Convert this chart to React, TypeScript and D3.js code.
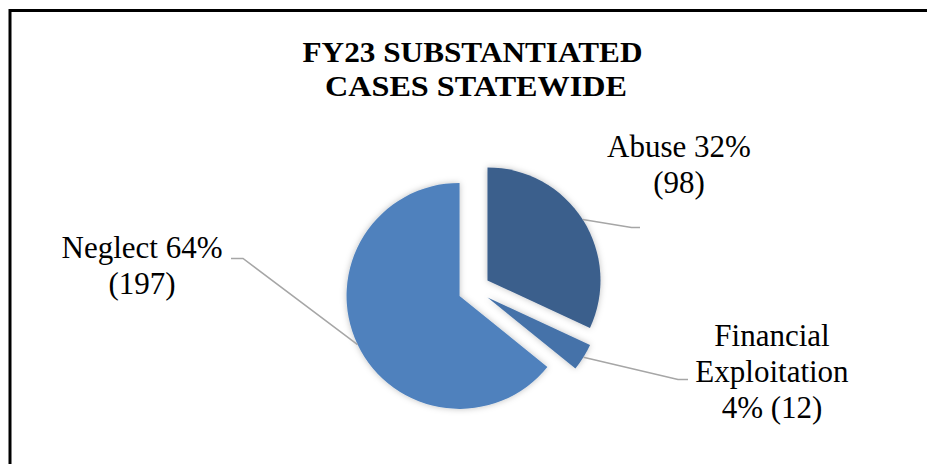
import React from "react";
import * as d3 from "d3";

// ---- data ----
const categories = ["Abuse", "Financial Exploitation", "Neglect"];
const caseCounts = [98, 12, 197];
const sliceColors = ["#3A5E8C", "#4572A9", "#4F81BD"];
const titleLines = ["FY23 SUBSTANTIATED", "CASES STATEWIDE"];

// ---- layout ----
const W = 927;
const H = 464;
const CX = 474;
const CY = 289;
const R = 113;
const EXPLODE = 16;
const FONT = "Liberation Serif, Tinos, Times New Roman, serif";
const titleLayout = [
  { x: 472.5, y: 62, len: 340 },
  { x: 476, y: 96, len: 302 },
];

type LabelLayout = {
  x: number;
  y: number;
  lines: (name: string, pct: number, n: number) => string[];
  elbow: [number, number];
  end: [number, number];
};
const labelLayouts: LabelLayout[] = [
  {
    x: 679,
    y: 157,
    lines: (name, pct, n) => [`${name} ${pct}%`, `(${n})`],
    elbow: [631.5, 227.5],
    end: [640, 227.5],
  },
  {
    x: 772,
    y: 346,
    lines: (name, pct, n) => [...name.split(" "), `${pct}% (${n})`],
    elbow: [678, 379.5],
    end: [688, 379.5],
  },
  {
    x: 142,
    y: 258,
    lines: (name, pct, n) => [`${name} ${pct}%`, `(${n})`],
    elbow: [243, 258.5],
    end: [231, 258.5],
  },
];

export default function App() {
  const total = d3.sum(caseCounts);
  const pie = d3
    .pie<number>()
    .sort(null)
    .value((d) => d)
    .startAngle(0)
    .endAngle(2 * Math.PI);
  const arcs = pie(caseCounts);
  const arcGen = d3.arc<d3.PieArcDatum<number>>().innerRadius(0).outerRadius(R);

  return (
    <svg
      width={W}
      height={H}
      style={{ position: "absolute", left: 0, top: 0, background: "#fff", fontFamily: FONT }}
    >
      <defs>
        <filter id="sh" x="-20%" y="-20%" width="140%" height="140%">
          <feDropShadow dx="0" dy="0" stdDeviation="3" floodColor="#000" floodOpacity="0.25" />
        </filter>
      </defs>
      <rect x={0} y={0} width={W} height={H} fill="#fff" />
      <rect x={10} y={10.5} width={W + 20} height={H + 20} fill="none" stroke="#000" strokeWidth={3} />

      {titleLines.map((t, i) => (
        <text
          key={t}
          x={titleLayout[i].x}
          y={titleLayout[i].y}
          textAnchor="middle"
          fontFamily={FONT}
          fontWeight="bold"
          fontSize={30}
          textLength={titleLayout[i].len}
          lengthAdjust="spacingAndGlyphs"
          fill="#000"
        >
          {t}
        </text>
      ))}

      <g transform={`translate(${CX},${CY})`}>
        {arcs.map((a, i) => {
          const mid = (a.startAngle + a.endAngle) / 2;
          const dx = Math.sin(mid) * EXPLODE;
          const dy = -Math.cos(mid) * EXPLODE;
          return (
            <path
              key={categories[i]}
              d={arcGen(a) || ""}
              transform={`translate(${dx},${dy})`}
              fill={sliceColors[i]}
              filter="url(#sh)"
            />
          );
        })}
      </g>

      {arcs.map((a, i) => {
        const mid = (a.startAngle + a.endAngle) / 2;
        const ux = Math.sin(mid);
        const uy = -Math.cos(mid);
        const sx = CX + ux * (EXPLODE + R);
        const sy = CY + uy * (EXPLODE + R);
        const L = labelLayouts[i];
        const pct = Math.round((caseCounts[i] / total) * 100);
        const lines = L.lines(categories[i], pct, caseCounts[i]);
        return (
          <g key={"lbl" + i}>
            <polyline
              points={`${sx},${sy} ${L.elbow[0]},${L.elbow[1]} ${L.end[0]},${L.end[1]}`}
              fill="none"
              stroke="#A6A6A6"
              strokeWidth={1.5}
            />
            <text textAnchor="middle" fontFamily={FONT} fontSize={31} fill="#000">
              {lines.map((ln, j) => (
                <tspan key={j} x={L.x} y={L.y + j * 36}>
                  {ln}
                </tspan>
              ))}
            </text>
          </g>
        );
      })}
    </svg>
  );
}
